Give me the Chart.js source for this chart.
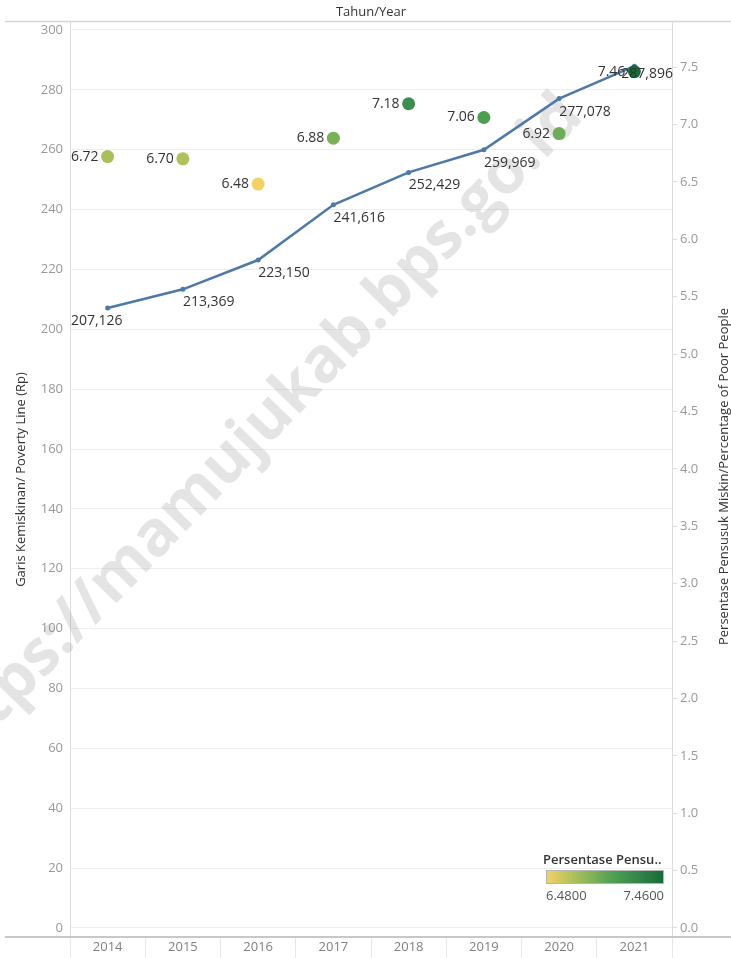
<!DOCTYPE html>
<html>
<head>
<meta charset="utf-8">
<script src="https://cdn.jsdelivr.net/npm/chart.js@4/dist/chart.umd.min.js"></script>
<style>
html,body{margin:0;padding:0;background:#fff;}
#wrap{width:731px;height:958px;position:relative;}
</style>
</head>
<body>
<div id="wrap"><canvas id="c" width="731" height="958"></canvas></div>
<script>
// ---- data ----
const years = ['2014','2015','2016','2017','2018','2019','2020','2021'];
const povertyLine = [207.126, 213.369, 223.150, 241.616, 252.429, 259.969, 277.078, 287.896]; // thousand Rp
const povertyLineLabels = ['207,126','213,369','223,150','241,616','252,429','259,969','277,078','287,896'];
const poorPct = [6.72, 6.70, 6.48, 6.88, 7.18, 7.06, 6.92, 7.46];
const leftTicks = [0,20,40,60,80,100,120,140,160,180,200,220,240,260,280,300];
const rightTicks = [0,0.5,1,1.5,2,2.5,3,3.5,4,4.5,5,5.5,6,6.5,7,7.5];
const colorMin = 6.48, colorMax = 7.46;

const FONT = "'Open Sans', 'DejaVu Sans', sans-serif";
const gg = ["#f4d166","#d5ca60","#b6c35c","#98bb59","#7cb257","#60a656","#4b9c53","#3f8f4f","#33834a","#257740","#146c36"];
function hex(h){return [parseInt(h.substr(1,2),16),parseInt(h.substr(3,2),16),parseInt(h.substr(5,2),16)];}
function colorFor(v){
  let t=(v-colorMin)/(colorMax-colorMin); t=Math.max(0,Math.min(1,t));
  const p=t*(gg.length-1); const i=Math.min(Math.floor(p),gg.length-2); const f=p-i;
  const a=hex(gg[i]), b=hex(gg[i+1]);
  return 'rgb('+a.map((x,k)=>Math.round(x+(b[k]-x)*f)).join(',')+')';
}

const decor = {
  id:'decor',
  beforeDatasetsDraw(chart){
    const ctx=chart.ctx;
    // watermark
    ctx.save();
    ctx.fillStyle='rgba(140,140,140,0.23)';
    ctx.font='bold 63px '+FONT;
    ctx.translate(585,118);
    ctx.rotate(-46*Math.PI/180);
    ctx.textAlign='right';
    ctx.textBaseline='alphabetic';
    ctx.fillText('https://mamujukab.bps.go.id',0,0);
    ctx.restore();
  },
  afterDatasetsDraw(chart){
    const ctx=chart.ctx, ca=chart.chartArea;
    ctx.save();
    // line labels
    const m0=chart.getDatasetMeta(0);
    ctx.font='14px '+FONT; ctx.fillStyle='#333'; ctx.textBaseline='middle';
    m0.data.forEach((pt,i)=>{
      let x=pt.x, y=pt.y+13, al='left';
      if(i===0){al='right'; x=pt.x+15;}
      if(i===m0.data.length-1){al='right'; x=ca.right+1; y=pt.y+8;}
      ctx.textAlign=al;
      ctx.fillText(povertyLineLabels[i],x,y);
    });
    // dot labels
    const m1=chart.getDatasetMeta(1);
    ctx.textAlign='right';
    m1.data.forEach((pt,i)=>{
      ctx.fillText(poorPct[i].toFixed(2),pt.x-9,pt.y);
    });
    ctx.restore();
  },
  afterDraw(chart){
    const ctx=chart.ctx, ca=chart.chartArea;
    ctx.save();
    // top border
    ctx.strokeStyle='#d6d6d6'; ctx.lineWidth=1.5;
    ctx.beginPath(); ctx.moveTo(5,21.5); ctx.lineTo(731,21.5); ctx.stroke();
    // bottom border
    ctx.strokeStyle='#c8c8c8'; ctx.lineWidth=2;
    ctx.beginPath(); ctx.moveTo(5,ca.bottom); ctx.lineTo(731,ca.bottom); ctx.stroke();
    // right axis title
    ctx.fillStyle='#333'; ctx.font='13px '+FONT;
    ctx.translate(724,(ca.top+ca.bottom)/2-3);
    ctx.rotate(-Math.PI/2);
    ctx.textAlign='center'; ctx.textBaseline='middle';
    ctx.fillText('Persentase Pensusuk Miskin/Percentage of Poor People',0,0);
    ctx.restore();
    // legend
    ctx.save();
    ctx.fillStyle='#333'; ctx.font='600 13px '+FONT; ctx.textAlign='left'; ctx.textBaseline='middle';
    ctx.fillText('Persentase Pensu..',543,860);
    const g=ctx.createLinearGradient(547,0,663,0);
    gg.forEach((c,i)=>g.addColorStop(i/(gg.length-1),c));
    ctx.fillStyle=g; ctx.fillRect(547,871,116,12);
    ctx.strokeStyle='#b5b5b5'; ctx.lineWidth=1; ctx.strokeRect(546.5,870.5,117,13);
    ctx.fillStyle='#555'; ctx.font='13px '+FONT;
    ctx.textAlign='left'; ctx.fillText(colorMin.toFixed(4),546,896);
    ctx.textAlign='right'; ctx.fillText(colorMax.toFixed(4),664,896);
    ctx.restore();
  }
};

new Chart(document.getElementById('c'),{
  data:{
    labels:years,
    datasets:[
      {type:'line', data:povertyLine, yAxisID:'y', xAxisID:'x', order:2,
       borderColor:'#4e79a7', borderWidth:2.5, tension:0,
       pointRadius:2.5, pointBackgroundColor:'#4e79a7', pointBorderWidth:0},
      {type:'line', data:poorPct, yAxisID:'y1', xAxisID:'x', order:1, showLine:false,
       pointRadius:6.5, pointBorderWidth:0,
       pointBackgroundColor:poorPct.map(colorFor), borderColor:'rgba(0,0,0,0)'}
    ]
  },
  options:{
    responsive:false, animation:false,
    layout:{padding:0},
    plugins:{legend:{display:false}, tooltip:{enabled:false}, title:{display:false}},
    scales:{
      x:{type:'category', position:'bottom', offset:true,
         grid:{offset:true, drawOnChartArea:false, drawTicks:true, tickLength:21, color:'#e8e8e8'},
         border:{display:false},
         ticks:{color:'#808080', font:{family:FONT,size:13}, padding:-19, maxRotation:0},
         afterFit:s=>{s.height=21;}},
      xTop:{type:'category', position:'top', offset:true,
         grid:{display:false}, border:{display:false},
         ticks:{display:false},
         title:{display:true, text:'Tahun/Year', color:'#333', font:{family:FONT,size:13}, padding:{top:4,bottom:0}},
         afterFit:s=>{s.height=22;}},
      y:{type:'linear', position:'left', min:-3.007, max:302.67,
         afterBuildTicks:s=>{s.ticks=leftTicks.map(v=>({value:v}));},
         grid:{color:'#efefef', drawTicks:false},
         border:{display:true, color:'#dcdcdc'},
         ticks:{color:'#999', font:{family:FONT,size:13}, padding:7},
         title:{display:true, text:'Garis Kemiskinan/ Poverty Line (Rp)', color:'#333', font:{family:FONT,size:13}, padding:{top:13,bottom:0}},
         afterFit:s=>{s.width=70;}},
      y1:{type:'linear', position:'right', min:-0.0784, max:7.892,
         afterBuildTicks:s=>{s.ticks=rightTicks.map(v=>({value:v}));},
         grid:{drawOnChartArea:false, drawTicks:true, tickLength:5, color:'#dcdcdc'},
         border:{display:true, color:'#dcdcdc'},
         ticks:{color:'#999', font:{family:FONT,size:13}, padding:3, callback:v=>Number(v).toFixed(1)},
         afterFit:s=>{s.width=59;}}
    }
  },
  plugins:[decor]
});
</script>
</body>
</html>
